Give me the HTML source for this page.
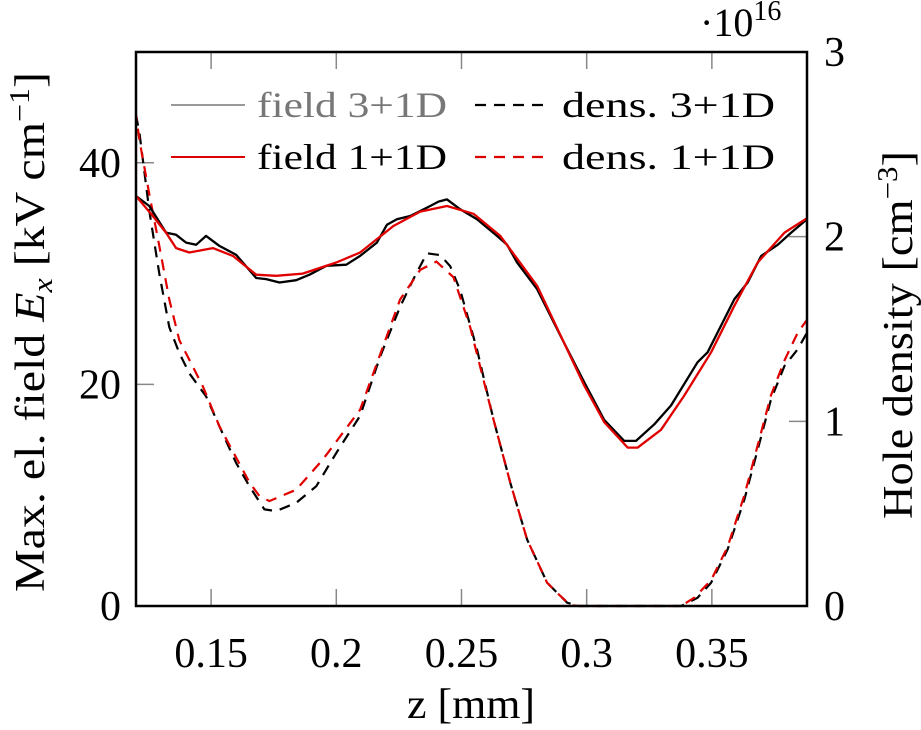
<!DOCTYPE html>
<html><head><meta charset="utf-8"><style>
html,body{margin:0;padding:0;background:#fff;}
svg{display:block;}
text{font-family:"Liberation Serif","DejaVu Serif",serif;fill:#000;}
</style></head><body>
<svg id="chart" width="921" height="730" viewBox="0 0 921 730" xmlns="http://www.w3.org/2000/svg">
<g id="ticks"></g>
<g id="series"></g>
<rect x="136" y="52" width="671" height="554" fill="none" stroke="#000" stroke-width="2.5"/>
<g id="labels"></g>
<text x="471" y="718" font-size="42" text-anchor="middle" textLength="128" lengthAdjust="spacingAndGlyphs">z [mm]</text>
<text transform="translate(44,332) rotate(-90)" font-size="42" text-anchor="middle" textLength="520" lengthAdjust="spacingAndGlyphs">Max. el. field <tspan font-style="italic">E</tspan><tspan font-style="italic" font-size="28" dy="8">x</tspan><tspan dy="-8"> [kV cm</tspan><tspan font-size="28" dy="-15">−1</tspan><tspan dy="15">]</tspan></text>
<text transform="translate(912,335) rotate(-90)" font-size="42" text-anchor="middle" textLength="368" lengthAdjust="spacingAndGlyphs">Hole density [cm<tspan font-size="28" dy="-15">−3</tspan><tspan dy="15">]</tspan></text>
<text x="700" y="36" font-size="40">·10<tspan font-size="28" dy="-16">16</tspan></text>
<g>
  <line x1="171" y1="105" x2="245" y2="105" stroke="#999" stroke-width="2"/>
  <text x="257" y="117" font-size="36" style="fill:#777" textLength="190" lengthAdjust="spacingAndGlyphs">field 3+1D</text>
  <line x1="171" y1="157" x2="245" y2="157" stroke="#d00" stroke-width="2"/>
  <text x="257" y="169" font-size="36" textLength="190" lengthAdjust="spacingAndGlyphs">field 1+1D</text>
  <line x1="475" y1="105" x2="543" y2="105" stroke="#000" stroke-width="2.2" stroke-dasharray="11,8"/>
  <text x="562" y="117" font-size="36" textLength="213" lengthAdjust="spacingAndGlyphs">dens. 3+1D</text>
  <line x1="475" y1="157" x2="543" y2="157" stroke="#d00" stroke-width="2.2" stroke-dasharray="11,8"/>
  <text x="562" y="169" font-size="36" textLength="213" lengthAdjust="spacingAndGlyphs">dens. 1+1D</text>
</g>
</svg>
<script>
const xTicks = [0.15, 0.2, 0.25, 0.3, 0.35];
const xTickLabels = ["0.15", "0.2", "0.25", "0.3", "0.35"];
const yLeftTicks = [0, 20, 40];
const yLeftTickLabels = ["0", "20", "40"];
const yRightTicks = [0, 1, 2, 3];
const yRightTickLabels = ["0", "1", "2", "3"];

const field3Z = [0.12,0.1253,0.132,0.136,0.14,0.144,0.148,0.1533,0.16,0.168,0.172,0.1773,0.184,0.1893,0.196,0.204,0.2095,0.2162,0.2202,0.2242,0.2295,0.2375,0.2408,0.2442,0.2495,0.2562,0.2642,0.2682,0.2722,0.2802,0.2895,0.299,0.307,0.315,0.3197,0.327,0.3337,0.3443,0.3483,0.359,0.3643,0.3697,0.3763,0.3817,0.388];
const field3V = [37.0,36.1,33.7,33.5,32.8,32.6,33.4,32.5,31.7,29.6,29.5,29.2,29.4,29.9,30.7,30.8,31.6,32.8,34.4,34.9,35.2,36.1,36.5,36.7,35.8,34.9,33.4,32.6,31.0,28.6,24.4,20.2,16.8,14.9,14.9,16.4,18.1,22.0,22.9,27.7,29.2,31.6,32.6,33.7,34.9];
const field1Z = [0.12,0.1267,0.132,0.136,0.1413,0.1507,0.1587,0.168,0.176,0.1866,0.2,0.2095,0.2228,0.2335,0.2442,0.2548,0.2655,0.2802,0.299,0.307,0.3164,0.3204,0.3297,0.339,0.3497,0.359,0.3683,0.379,0.388];
const field1V = [37.0,35.2,33.7,32.3,31.9,32.3,31.6,29.9,29.8,30.0,31.0,31.9,34.3,35.6,36.1,35.4,33.4,28.9,19.9,16.6,14.3,14.3,15.9,19.0,22.9,27.1,31.0,33.7,35.0];
const dens3Z = [0.12,0.1214,0.1253,0.1293,0.1333,0.1373,0.1413,0.148,0.1533,0.16,0.1653,0.1713,0.176,0.184,0.192,0.2,0.2095,0.2175,0.2255,0.2308,0.2362,0.2415,0.2455,0.2495,0.2562,0.2628,0.2695,0.2762,0.2842,0.2922,0.297,0.3377,0.3443,0.3497,0.3563,0.363,0.3683,0.3736,0.379,0.3843,0.388];
const dens3V = [2.66,2.56,2.14,1.80,1.51,1.37,1.26,1.135,0.973,0.775,0.649,0.523,0.514,0.559,0.649,0.829,1.03,1.35,1.62,1.77,1.91,1.90,1.84,1.71,1.39,1.01,0.667,0.36,0.126,0.018,0,0,0.045,0.126,0.306,0.577,0.847,1.117,1.30,1.39,1.48];
const dens1Z = [0.12,0.1214,0.1253,0.1293,0.1333,0.1373,0.1467,0.1533,0.1653,0.1693,0.1733,0.184,0.1946,0.2095,0.2255,0.2335,0.24,0.2468,0.2535,0.2628,0.2695,0.2762,0.2842,0.2895,0.2935,0.297,0.3377,0.343,0.3497,0.3563,0.363,0.3683,0.3736,0.379,0.3843,0.388];
const dens1V = [2.66,2.52,2.23,1.95,1.66,1.44,1.19,0.973,0.67,0.595,0.568,0.63,0.793,1.063,1.66,1.82,1.865,1.78,1.51,1.01,0.667,0.36,0.126,0.054,0.005,0,0,0.045,0.14,0.32,0.6,0.87,1.14,1.33,1.48,1.55];

const X0=136, X1=807, Y0=606, Y1=52;
const zMin=0.12, zMax=0.388, lMax=50, rMax=3;
function sx(z){return X0+(z-zMin)/(zMax-zMin)*(X1-X0);}
function syL(v){return Y0-v/lMax*(Y0-Y1);}
function syR(v){return Y0-v/rMax*(Y0-Y1);}
const NS="http://www.w3.org/2000/svg";
const tg=document.getElementById('ticks'), lg=document.getElementById('labels'), sg=document.getElementById('series');
function mk(tag,attrs,parent){const e=document.createElementNS(NS,tag);for(const k in attrs)e.setAttribute(k,attrs[k]);parent.appendChild(e);return e;}

xTicks.forEach((t,i)=>{
  const x=sx(t);
  let a=mk('line',{x1:x,x2:x,y1:Y0,y2:Y0-17,stroke:'#888','stroke-width':1.5},tg);
  
  
  let b=mk('line',{x1:x,x2:x,y1:Y1,y2:Y1+17,stroke:'#888','stroke-width':1.5},tg);
  
  
  let l=mk('text',{x:x,y:667,'font-size':42,'text-anchor':'middle'},lg);
  l.textContent=xTickLabels[i];
  
  
});
yLeftTicks.forEach((t,i)=>{
  const y=syL(t);
  let a=mk('line',{x1:X0,x2:X0+18,y1:y,y2:y,stroke:'#888','stroke-width':1.5},tg);
  
  
  let l=mk('text',{x:121,y:y+14,'font-size':42,'text-anchor':'end'},lg);
  l.textContent=yLeftTickLabels[i];
  
  
});
yRightTicks.forEach((t,i)=>{
  const y=syR(t);
  let a=mk('line',{x1:X1-18,x2:X1,y1:y,y2:y,stroke:'#888','stroke-width':1.5},tg);
  
  
  let l=mk('text',{x:824,y:y+14,'font-size':42,'text-anchor':'start'},lg);
  l.textContent=yRightTickLabels[i];
  
  
});
function path(zs,vs,fy){return zs.map((z,i)=>(i?'L':'M')+sx(z).toFixed(1)+','+fy(vs[i]).toFixed(1)).join(' ');}
let p;
p=mk('path',{d:path(dens3Z,dens3V,syR),fill:'none',stroke:'#000','stroke-width':2.2,'stroke-dasharray':'11,8'},sg);


p=mk('path',{d:path(dens1Z,dens1V,syR),fill:'none',stroke:'#e00000','stroke-width':2.2,'stroke-dasharray':'11,8','stroke-dashoffset':5},sg);


p=mk('path',{d:path(field3Z,field3V,syL),fill:'none',stroke:'#000','stroke-width':2.3,'stroke-linejoin':'round'},sg);


p=mk('path',{d:path(field1Z,field1V,syL),fill:'none',stroke:'#e00000','stroke-width':2.3,'stroke-linejoin':'round'},sg);


</script>
</body></html>
